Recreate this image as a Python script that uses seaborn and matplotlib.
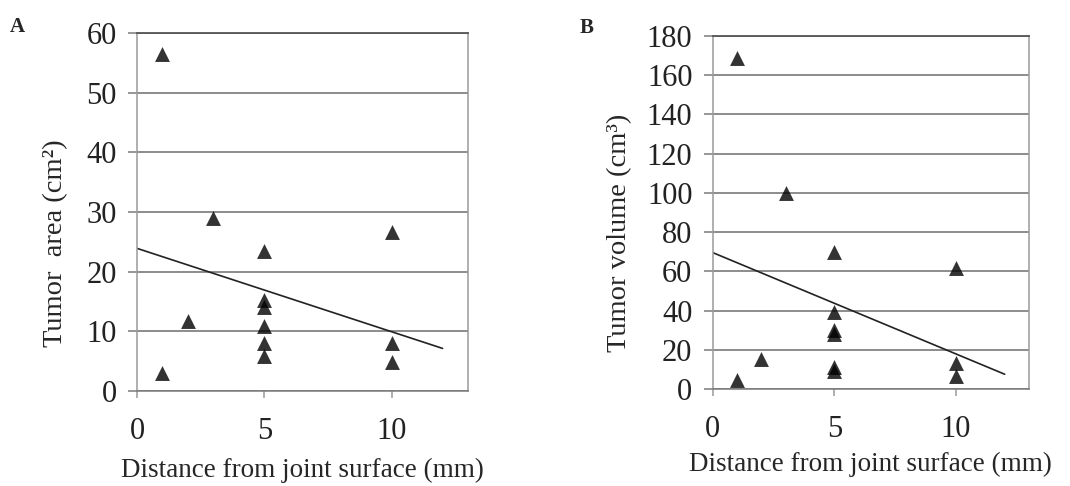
import numpy as np
import pandas as pd
import matplotlib
matplotlib.use('Agg')
import matplotlib.pyplot as plt
import seaborn as sns

# distance from joint surface (mm), same cases in both panels
distance = [1, 1, 2, 3, 5, 5, 5, 5, 5, 5, 10, 10, 10]
tumor_area = [56.5, 3.0, 11.8, 29.0, 23.5, 15.2, 14.0, 10.9, 8.0, 5.8, 26.6, 8.1, 4.8]
tumor_volume = [169, 4.5, 15.5, 100, 70, 39.5, 30, 28, 11, 9, 61.5, 13.5, 6.5]

area_ticks = [0, 10, 20, 30, 40, 50, 60]
volume_ticks = [0, 20, 40, 60, 80, 100, 120, 140, 160, 180]
x_ticks = [0, 5, 10]

sns.set_style("white")
plt.rcParams['font.family'] = ['Liberation Serif', 'DejaVu Serif']

fig = plt.figure(figsize=(10.7, 4.86), dpi=100)
axA = fig.add_axes([0.128, 0.1955, 0.3094, 0.7365])
axB = fig.add_axes([0.666, 0.1996, 0.2957, 0.7264])

df = pd.DataFrame({"dist": distance, "area": tumor_area, "vol": tumor_volume})


def panel(ax, col, yticks, ylabel, ylab_xy, xlab_y):
    # fitted line spans 0-12, axis runs on to 13
    ax.set_xlim(0, 12)
    sns.regplot(data=df, x="dist", y=col, ax=ax, ci=None, truncate=False,
                marker="^", color="black",
                scatter_kws={"s": 115, "linewidths": 0, "zorder": 3},
                line_kws={"lw": 1.2, "color": "#222222"})
    ax.set_xlim(0, 13)
    ax.set_ylim(yticks[0], yticks[-1])
    ax.set_yticks(yticks)
    ax.set_xticks(x_ticks)
    ax.yaxis.grid(True, color="#6e6e6e", lw=1.1)
    ax.set_axisbelow(True)
    for s in ["left", "right", "bottom"]:
        ax.spines[s].set_color("#9a9a9a")
        ax.spines[s].set_linewidth(1.1)
    ax.spines["top"].set_color("#555555")
    ax.spines["top"].set_linewidth(1.3)
    ax.spines["bottom"].set_color("#7a7a7a")
    ax.tick_params(axis="y", direction="out", length=6.5, width=1.1,
                   color="#7a7a7a", labelsize=22, pad=8, left=True)
    ax.tick_params(axis="x", direction="out", length=5, width=1.1,
                   color="#9a9a9a", labelsize=22, pad=13.5, bottom=True)
    ax.set_xlabel("Distance from joint surface (mm)", fontsize=19.5)
    ax.set_ylabel(ylabel, fontsize=20.5)
    ax.xaxis.set_label_coords(0.5, xlab_y)
    ax.yaxis.set_label_coords(*ylab_xy)
    ax.xaxis.label.set_va("center")
    ax.yaxis.label.set_va("center")
    for t in ax.get_xticklabels() + ax.get_yticklabels():
        t.set_color("#222222")


panel(axA, "area", area_ticks, "Tumor  area (cm²)", (-0.246, 0.413), -0.223)
panel(axB, "vol", volume_ticks, "Tumor volume (cm³)", (-0.295, 0.442), -0.215)

fig.text(0.0095, 0.965, "A", fontsize=15, fontweight="bold", va="top")
fig.text(0.542, 0.962, "B", fontsize=15, fontweight="bold", va="top")

fig.savefig("out.png", dpi=100)
